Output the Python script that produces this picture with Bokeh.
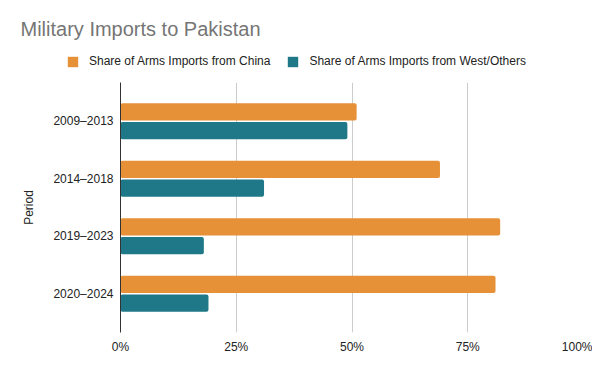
from bokeh.plotting import figure
from bokeh.layouts import column
from bokeh.models import ColumnDataSource, FactorRange, Range1d, Legend, LegendItem, PrintfTickFormatter, FixedTicker
from bokeh.transform import dodge
from bokeh.embed import file_html
from bokeh.resources import INLINE

periods = ["2009–2013", "2014–2018", "2019–2023", "2020–2024"]
china = [51, 69, 82, 81]
west = [49, 31, 18, 19]
x_ticks = [0, 25, 50, 75, 100]
series_labels = ["Share of Arms Imports from China", "Share of Arms Imports from West/Others"]
title_text = "Military Imports to Pakistan"

ORANGE = "#E69138"
TEAL = "#1E7887"
FONT = "Liberation Sans"

src = ColumnDataSource(dict(period=periods, china=china, west=west))

# ---- header: title + legend ----
h = figure(width=592, height=82, output_backend="svg", toolbar_location=None,
           x_axis_type=None, y_axis_type=None,
           x_range=Range1d(0, 100), y_range=FactorRange(factors=periods),
           min_border_left=0, min_border_right=0, min_border_top=44, min_border_bottom=0)
h.frame_align = False
h.outline_line_color = None
h.title.text = title_text
h.title.text_font = FONT
h.title.text_font_size = "20px"
h.title.text_font_style = "normal"
h.title.text_color = "#757575"
h.title.offset = 20

lr1 = h.hbar(y="period", right="china", left=0, height=0.3, source=src,
             color=ORANGE, line_color=None, visible=False)
lr2 = h.hbar(y="period", right="west", left=0, height=0.3, source=src,
             color=TEAL, line_color=None, visible=False)
legend = Legend(items=[LegendItem(label=series_labels[0], renderers=[lr1]),
                       LegendItem(label=series_labels[1], renderers=[lr2])],
                orientation="horizontal", location=(66, 14),
                label_text_font=FONT, label_text_font_size="12px", label_text_color="#222222",
                glyph_width=13, glyph_height=13, label_height=13, spacing=16, label_standoff=10,
                border_line_color=None, background_fill_alpha=0, padding=0, margin=0,
                inactive_fill_alpha=0)
h.add_layout(legend, "center")

# ---- main chart ----
p = figure(width=592, height=281, output_backend="svg", toolbar_location=None, title=None,
           y_range=FactorRange(factors=periods[::-1], range_padding=0.087),
           x_range=Range1d(0, 100),
           min_border_left=120, min_border_right=9, min_border_top=0, min_border_bottom=31)
p.frame_align = False
p.outline_line_color = None

p.hbar(y=dodge("period", 0.165, range=p.y_range), right="china", left=0, height=0.3,
       source=src, color=ORANGE, line_color=None, border_radius=2)
p.hbar(y=dodge("period", -0.165, range=p.y_range), right="west", left=0, height=0.3,
       source=src, color=TEAL, line_color=None, border_radius=2)

p.xaxis.ticker = FixedTicker(ticks=x_ticks)
p.xaxis.formatter = PrintfTickFormatter(format="%d%%")
p.xaxis.axis_line_color = None
p.xaxis.major_tick_line_color = None
p.xaxis.minor_tick_line_color = None
p.xaxis.major_tick_out = 0
p.xaxis.major_label_text_font = FONT
p.xaxis.major_label_text_font_size = "12px"
p.xaxis.major_label_text_color = "#222222"
p.xaxis.major_label_standoff = 7

p.yaxis.axis_line_color = "#333333"
p.yaxis.major_tick_line_color = None
p.yaxis.minor_tick_line_color = None
p.yaxis.major_tick_out = 0
p.yaxis.major_label_text_font = FONT
p.yaxis.major_label_text_font_size = "12px"
p.yaxis.major_label_text_color = "#222222"
p.yaxis.major_label_standoff = 7
p.yaxis.axis_label = "Period"
p.yaxis.axis_label_text_font = FONT
p.yaxis.axis_label_text_font_size = "12px"
p.yaxis.axis_label_text_font_style = "normal"
p.yaxis.axis_label_text_color = "#222222"
p.yaxis.axis_label_standoff = 14

p.ygrid.grid_line_color = None
p.xgrid.ticker = FixedTicker(ticks=x_ticks[1:])
p.xgrid.grid_line_color = "#cccccc"

layout = column(h, p, spacing=0)
open("out.html", "w").write(file_html(layout, INLINE))
